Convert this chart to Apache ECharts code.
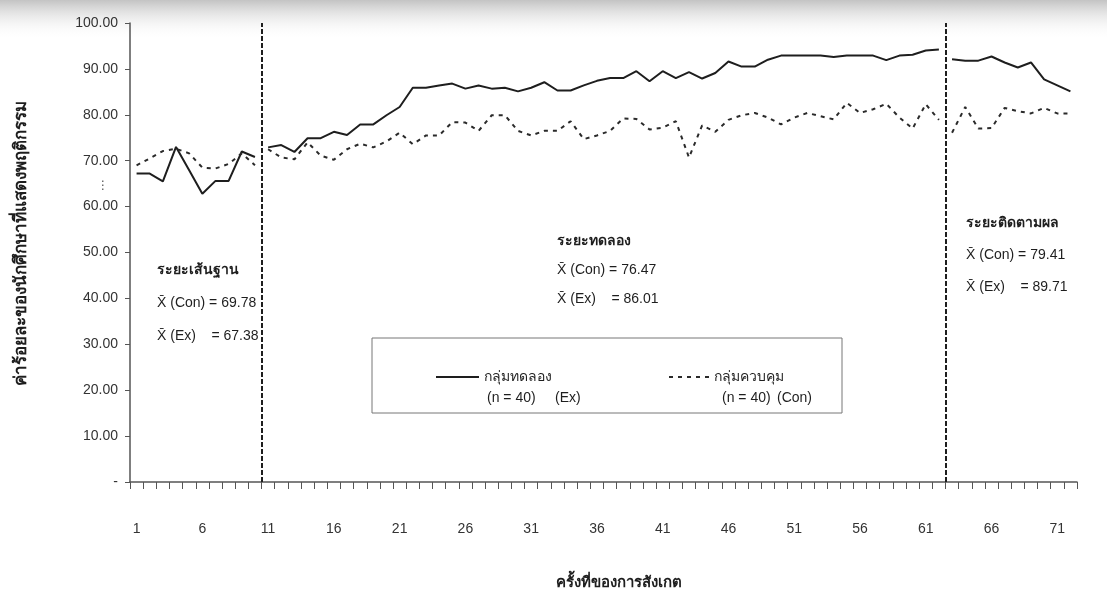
<!DOCTYPE html>
<html>
<head>
<meta charset="utf-8">
<style>
  html, body { margin: 0; padding: 0; background: #fff; }
  #chart { width: 1107px; height: 595px; }
</style>
<script src="https://cdn.jsdelivr.net/npm/echarts@6/dist/echarts.min.js"></script>
</head>
<body>
<div id="chart"></div>
<script>
// observation number 1..72
const categories = ['1', '2', '3', '4', '5', '6', '7', '8', '9', '10',
  '11', '12', '13', '14', '15', '16', '17', '18', '19', '20',
  '21', '22', '23', '24', '25', '26', '27', '28', '29', '30',
  '31', '32', '33', '34', '35', '36', '37', '38', '39', '40',
  '41', '42', '43', '44', '45', '46', '47', '48', '49', '50',
  '51', '52', '53', '54', '55', '56', '57', '58', '59', '60',
  '61', '62', '63', '64', '65', '66', '67', '68', '69', '70',
  '71', '72']

// first observation of each phase
const phaseStart = [1, 11, 63]
const phaseNames = ['ระยะเส้นฐาน', 'ระยะทดลอง', 'ระยะติดตามผล']
const meanCon = ['69.78', '76.47', '79.41']
const meanEx = ['67.38', '86.01', '89.71']
// phase boundaries (between observations)
const phaseLines = [10.5, 62.5]

// experimental group (Ex)
const exBaseline = [67.2, 67.2, 65.5, 73.0, 67.9, 62.8, 65.6, 65.6, 72.0, 70.8]
const exTreatment = [72.9, 73.4, 71.9, 74.9, 74.9, 76.3, 75.6, 77.9, 77.9, 79.9,
  81.7, 85.9, 85.9, 86.4, 86.8, 85.7, 86.4, 85.7, 85.9, 85.1,
  85.9, 87.1, 85.3, 85.3, 86.4, 87.4, 88.0, 88.0, 89.5, 87.3,
  89.5, 88.0, 89.3, 87.9, 89.1, 91.6, 90.5, 90.5, 92.0, 92.9,
  92.9, 92.9, 92.9, 92.6, 92.9, 92.9, 92.9, 91.9, 92.9, 93.1,
  94.0, 94.2]
const exFollow = [92.1, 91.8, 91.8, 92.7, 91.4, 90.3, 91.4, 87.7, 86.4, 85.1]

// control group (Con)
const conBaseline = [69.0, 70.5, 72.1, 72.6, 71.6, 68.5, 68.3, 69.3, 71.6, 69.0]
const conTreatment = [72.5, 70.7, 70.3, 74.0, 71.1, 70.2, 72.5, 73.7, 72.9, 74.2,
  76.1, 73.6, 75.5, 75.5, 78.4, 78.3, 76.5, 79.9, 79.9, 76.5,
  75.5, 76.5, 76.5, 78.6, 74.7, 75.5, 76.5, 79.2, 79.1, 76.8,
  77.2, 78.6, 70.7, 77.7, 76.3, 78.9, 79.9, 80.4, 79.4, 77.9,
  79.4, 80.4, 79.7, 79.0, 82.6, 80.4, 81.2, 82.4, 79.4, 77.0,
  82.3, 78.9]
const conFollow = [76.1, 81.7, 77.0, 77.1, 81.5, 80.8, 80.3, 81.5, 80.3, 80.3]

const exPhases = [exBaseline, exTreatment, exFollow]
const conPhases = [conBaseline, conTreatment, conFollow]

const EX_NAME = 'กลุ่มทดลอง'
const CON_NAME = 'กลุ่มควบคุม'
const FONT = '"Liberation Sans", "Noto Sans", "DejaVu Sans", sans-serif'
const INK = '#1e1e1e'

function toPoints(values, start) {
  return values.map((v, i) => [start + i, v])
}

const series = []
exPhases.forEach((vals, p) => {
  series.push({
    name: EX_NAME,
    type: 'line',
    xAxisIndex: 1,
    symbol: 'none',
    color: INK,
    lineStyle: { color: INK, width: 2 },
    data: toPoints(vals, phaseStart[p]),
    markLine: p === 0 ? {
      silent: true,
      symbol: 'none',
      label: { show: false },
      lineStyle: { color: INK, width: 2, type: [5, 2] },
      data: phaseLines.map(x => ({ xAxis: x }))
    } : undefined
  })
})
conPhases.forEach((vals, p) => {
  series.push({
    name: CON_NAME,
    type: 'line',
    xAxisIndex: 1,
    symbol: 'none',
    color: '#2a2a2a',
    lineStyle: { color: '#2a2a2a', width: 2, type: [4, 5] },
    data: toPoints(vals, phaseStart[p])
  })
})

// phase captions and means
const textPos = [
  { left: 157, top: 270, gap: 33 },
  { left: 557, top: 241, gap: 29 },
  { left: 966, top: 223, gap: 32 }
]

function label(text, x, y, size) {
  return {
    type: 'text', x: x, y: y,
    style: { text: text, font: size + 'px ' + FONT, fill: INK, textVerticalAlign: 'middle' }
  }
}

const graphics = [
  {
    type: 'rect',
    z: -10,
    shape: { x: 0, y: 0, width: 1107, height: 40 },
    style: {
      fill: new echarts.graphic.LinearGradient(0, 0, 0, 1, [
        { offset: 0, color: 'rgba(170,170,170,0.7)' },
        { offset: 1, color: 'rgba(255,255,255,0)' }
      ])
    }
  },
  {
    type: 'rect',
    shape: { x: 372, y: 338, width: 470, height: 75 },
    style: { fill: 'none', stroke: '#777', lineWidth: 1 }
  },
  label('(n = 40)', 487, 398, 14),
  label('(Ex)', 555, 398, 14),
  label('(n = 40)', 722, 398, 14),
  label('(Con)', 777, 398, 14),
  {
    type: 'text',
    x: 97, y: 186,
    style: { text: '⋮', font: '12px ' + FONT, fill: '#555', textVerticalAlign: 'middle' }
  }
]
textPos.forEach((pos, p) => {
  graphics.push({
    type: 'text', x: pos.left, y: pos.top,
    style: { text: phaseNames[p], font: 'bold 14px ' + FONT, fill: INK, textVerticalAlign: 'middle' }
  })
  graphics.push(label('X\u0304 (Con) = ' + meanCon[p], pos.left, pos.top + pos.gap, 14))
  graphics.push(label('X\u0304 (Ex)    = ' + meanEx[p], pos.left, pos.top + pos.gap * 2, 14))
})

const legendBase = {
  top: 370,
  padding: 0,
  itemHeight: 14,
  itemGap: 3,
  itemStyle: { opacity: 0 },
  textStyle: { fontSize: 14, color: INK, fontFamily: FONT }
}

const chart = echarts.init(document.getElementById('chart'), null, { renderer: 'canvas' })
chart.setOption({
  animation: false,
  backgroundColor: '#fff',
  textStyle: { fontFamily: FONT },
  grid: { left: 130, right: 30, top: 23, bottom: 110 },
  legend: [
    Object.assign({}, legendBase, { data: [EX_NAME], left: 435, itemWidth: 43 }),
    Object.assign({}, legendBase, { data: [CON_NAME], left: 668, itemWidth: 40 })
  ],
  xAxis: [
    {
      type: 'category',
      data: categories,
      boundaryGap: true,
      name: 'ครั้งที่ของการสังเกต',
      nameLocation: 'middle',
      nameGap: 93,
      nameTextStyle: { fontSize: 15, fontWeight: 'bold', color: INK, padding: [0, 0, 0, 30] },
      axisLine: { lineStyle: { color: '#555', width: 1.5 } },
      axisTick: { show: true, interval: 0, length: 7, lineStyle: { color: '#555' } },
      axisLabel: { interval: 4, margin: 40, fontSize: 14, color: '#333' },
      splitLine: { show: false }
    },
    {
      type: 'value',
      min: 0.5,
      max: 72.5,
      show: false,
      splitLine: { show: false }
    }
  ],
  yAxis: {
    type: 'value',
    min: 0,
    max: 100,
    interval: 10,
    name: 'ค่าร้อยละของนักศึกษาที่แสดงพฤติกรรม',
    nameLocation: 'middle',
    nameGap: 100,
    nameTextStyle: { fontSize: 17, fontWeight: 'bold', color: INK, padding: [0, 0, 0, 18] },
    axisLine: { show: true, lineStyle: { color: '#555', width: 1.5 } },
    axisTick: { show: true, length: 5, lineStyle: { color: '#555' } },
    axisLabel: {
      fontSize: 14,
      color: '#333',
      margin: 12,
      formatter: v => (v === 0 ? '-' : v.toFixed(2))
    },
    splitLine: { show: false }
  },
  graphic: graphics,
  series: series
})
</script>
</body>
</html>
